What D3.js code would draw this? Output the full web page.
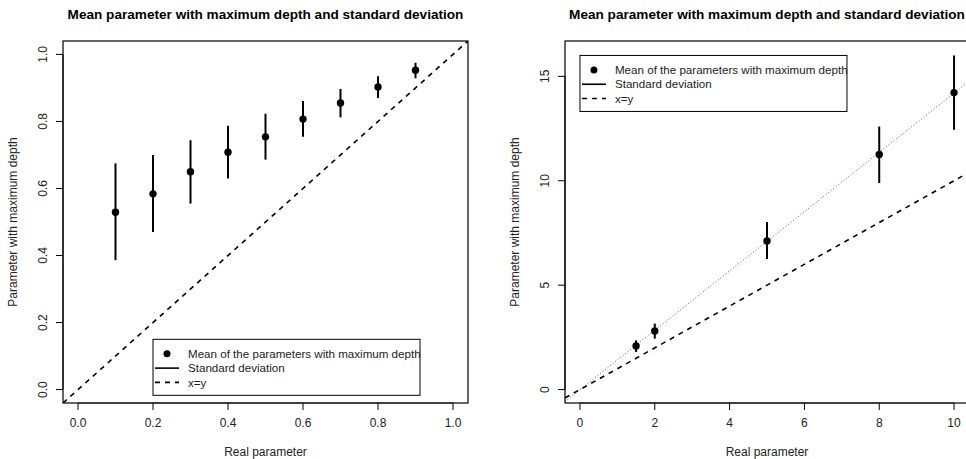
<!DOCTYPE html>
<html>
<head>
<meta charset="utf-8">
<script src="https://cdn.jsdelivr.net/npm/d3@7"></script>
<style>
  body { margin: 0; background: #fff; }
  svg { display: block; font-family: "Liberation Sans", Arial, sans-serif; }
</style>
</head>
<body>
<div id="chart"></div>
<script>
// left panel: parameters in [0, 1]
const realParamA = [0.1, 0.2, 0.3, 0.4, 0.5, 0.6, 0.7, 0.8, 0.9];
const meanDepthA = [0.529, 0.584, 0.650, 0.708, 0.754, 0.807, 0.855, 0.903, 0.953];
const sdLowA = [0.386, 0.470, 0.555, 0.630, 0.686, 0.754, 0.812, 0.870, 0.929];
const sdHighA = [0.675, 0.700, 0.744, 0.787, 0.823, 0.861, 0.897, 0.935, 0.975];
const ticksXA = [0, 0.2, 0.4, 0.6, 0.8, 1];
const ticksYA = [0, 0.2, 0.4, 0.6, 0.8, 1];

// right panel: larger parameters
const realParamB = [1.5, 2, 5, 8, 10];
const meanDepthB = [2.09, 2.81, 7.12, 11.26, 14.22];
const sdLowB = [1.80, 2.44, 6.25, 9.89, 12.44];
const sdHighB = [2.36, 3.16, 8.02, 12.60, 16.00];
const ticksXB = [0, 2, 4, 6, 8, 10];
const ticksYB = [0, 5, 10, 15];
const fitSlopeB = 1.42; // dotted trend through the means

const titleText = "Mean parameter with maximum depth and standard deviation";
const xLabel = "Real parameter";
const yLabel = "Parameter with maximum depth";
const legendLabels = ["Mean of the parameters with maximum depth", "Standard deviation", "x=y"];

const width = 966, height = 459;

const svg = d3.select("#chart").append("svg")
    .attr("width", width)
    .attr("height", height);

// R style axis range: data limits extended by 4% on each side
function rRange(lo, hi) {
    let pad = (hi - lo) * 0.04;
    return [lo - pad, hi + pad];
}

function drawPanel(p) {
    let g = svg.append("g");
    let x = d3.scaleLinear().domain(rRange(p.xlim[0], p.xlim[1])).range([p.left, p.right]);
    let y = d3.scaleLinear().domain(rRange(p.ylim[0], p.ylim[1])).range([p.bottom, p.top]);

    g.append("clipPath").attr("id", p.id)
        .append("rect")
        .attr("x", p.left).attr("y", p.top)
        .attr("width", p.right - p.left).attr("height", p.bottom - p.top);

    let plot = g.append("g").attr("clip-path", `url(#${p.id})`);

    // x=y reference line
    let xd = x.domain();
    plot.append("line")
        .attr("x1", x(xd[0])).attr("y1", y(xd[0]))
        .attr("x2", x(xd[1])).attr("y2", y(xd[1]))
        .attr("stroke", "#000").attr("stroke-width", 1.6)
        .attr("stroke-dasharray", "5,5");

    // dotted trend line (right panel only)
    if (p.slope) {
        plot.append("line")
            .attr("x1", x(xd[0])).attr("y1", y(xd[0] * p.slope))
            .attr("x2", x(xd[1])).attr("y2", y(xd[1] * p.slope))
            .attr("stroke", "#555").attr("stroke-width", 1)
            .attr("stroke-dasharray", "1,2.2");
    }

    let pts = p.xs.map((v, i) => ({x: v, m: p.means[i], lo: p.lows[i], hi: p.highs[i]}));

    plot.selectAll("line.sd")
        .data(pts)
        .join("line")
        .attr("class", "sd")
        .attr("x1", d => x(d.x)).attr("x2", d => x(d.x))
        .attr("y1", d => y(d.lo)).attr("y2", d => y(d.hi))
        .attr("stroke", "#000").attr("stroke-width", 2);

    plot.selectAll("circle")
        .data(pts)
        .join("circle")
        .attr("cx", d => x(d.x)).attr("cy", d => y(d.m))
        .attr("r", 3.7)
        .attr("fill", "#000");

    // box
    g.append("rect")
        .attr("x", p.left).attr("y", p.top)
        .attr("width", p.right - p.left).attr("height", p.bottom - p.top)
        .attr("fill", "none").attr("stroke", "#000").attr("stroke-width", 1.2);

    // axes
    let xAxis = g.append("g");
    xAxis.append("line")
        .attr("x1", x(p.xticks[0])).attr("x2", x(p.xticks[p.xticks.length - 1]))
        .attr("y1", p.bottom).attr("y2", p.bottom)
        .attr("stroke", "#333").attr("stroke-width", 1.5);
    xAxis.selectAll("line.tick")
        .data(p.xticks)
        .join("line")
        .attr("class", "tick")
        .attr("x1", d => x(d)).attr("x2", d => x(d))
        .attr("y1", p.bottom).attr("y2", p.bottom + 7)
        .attr("stroke", "#000");
    xAxis.selectAll("text")
        .data(p.xticks)
        .join("text")
        .attr("x", d => x(d)).attr("y", p.bottom + 24)
        .attr("text-anchor", "middle")
        .attr("font-size", 12).attr("fill", "#222")
        .text(p.xfmt);

    let yAxis = g.append("g");
    yAxis.append("line")
        .attr("y1", y(p.yticks[0])).attr("y2", y(p.yticks[p.yticks.length - 1]))
        .attr("x1", p.left).attr("x2", p.left)
        .attr("stroke", "#000").attr("stroke-width", 1);
    yAxis.selectAll("line.tick")
        .data(p.yticks)
        .join("line")
        .attr("class", "tick")
        .attr("y1", d => y(d)).attr("y2", d => y(d))
        .attr("x1", p.left - 7).attr("x2", p.left)
        .attr("stroke", "#000");
    yAxis.selectAll("text")
        .data(p.yticks)
        .join("text")
        .attr("transform", d => `translate(${p.left - 16},${y(d)}) rotate(-90)`)
        .attr("text-anchor", "middle")
        .attr("font-size", 12).attr("fill", "#222")
        .text(p.yfmt);

    // labels
    let cx = (p.left + p.right) / 2;
    g.append("text")
        .attr("x", cx).attr("y", 19)
        .attr("text-anchor", "middle")
        .attr("font-size", 13.6).attr("font-weight", "bold")
        .text(titleText);
    g.append("text")
        .attr("x", cx).attr("y", p.bottom + 53)
        .attr("text-anchor", "middle")
        .attr("font-size", 12).attr("fill", "#222")
        .text(xLabel);
    g.append("text")
        .attr("transform", `translate(${p.left - 46},${(p.top + p.bottom) / 2}) rotate(-90)`)
        .attr("text-anchor", "middle")
        .attr("font-size", 12).attr("fill", "#222")
        .text(yLabel);

    // legend, anchored at its top-left corner in data units
    let lx = x(p.legendAt[0]), ly = y(p.legendAt[1]);
    let leg = g.append("g").attr("transform", `translate(${lx},${ly})`);
    leg.append("rect")
        .attr("width", 267).attr("height", 56)
        .attr("fill", "#fff").attr("stroke", "#000").attr("stroke-width", 1);
    legendLabels.forEach((lab, i) => {
        let ry = 14.5 + i * 14.3;
        leg.append("text")
            .attr("x", 35).attr("y", ry + 4.2)
            .attr("font-size", 11.6).attr("fill", "#222")
            .text(lab);
        if (i === 0) {
            leg.append("circle").attr("cx", 14).attr("cy", ry).attr("r", 3.5).attr("fill", "#000");
        } else {
            leg.append("line")
                .attr("x1", 2).attr("x2", 26).attr("y1", ry).attr("y2", ry)
                .attr("stroke", "#000").attr("stroke-width", 1.6)
                .attr("stroke-dasharray", i === 2 ? "5,5" : null);
        }
    });
}

drawPanel({
    id: "clipA", left: 63, right: 468, top: 41, bottom: 403,
    xlim: [0, 1], ylim: [0, 1],
    xs: realParamA, means: meanDepthA, lows: sdLowA, highs: sdHighA,
    xticks: ticksXA, yticks: ticksYA,
    xfmt: d3.format(".1f"), yfmt: d3.format(".1f"),
    legendAt: [0.2, 0.15]
});

drawPanel({
    id: "clipB", left: 565, right: 969, top: 41, bottom: 403,
    xlim: [0, 10], ylim: [0, 16.05],
    xs: realParamB, means: meanDepthB, lows: sdLowB, highs: sdHighB,
    xticks: ticksXB, yticks: ticksYB,
    xfmt: d3.format("d"), yfmt: d3.format("d"),
    slope: fitSlopeB,
    legendAt: [0, 16.0]
});
</script>
</body>
</html>
